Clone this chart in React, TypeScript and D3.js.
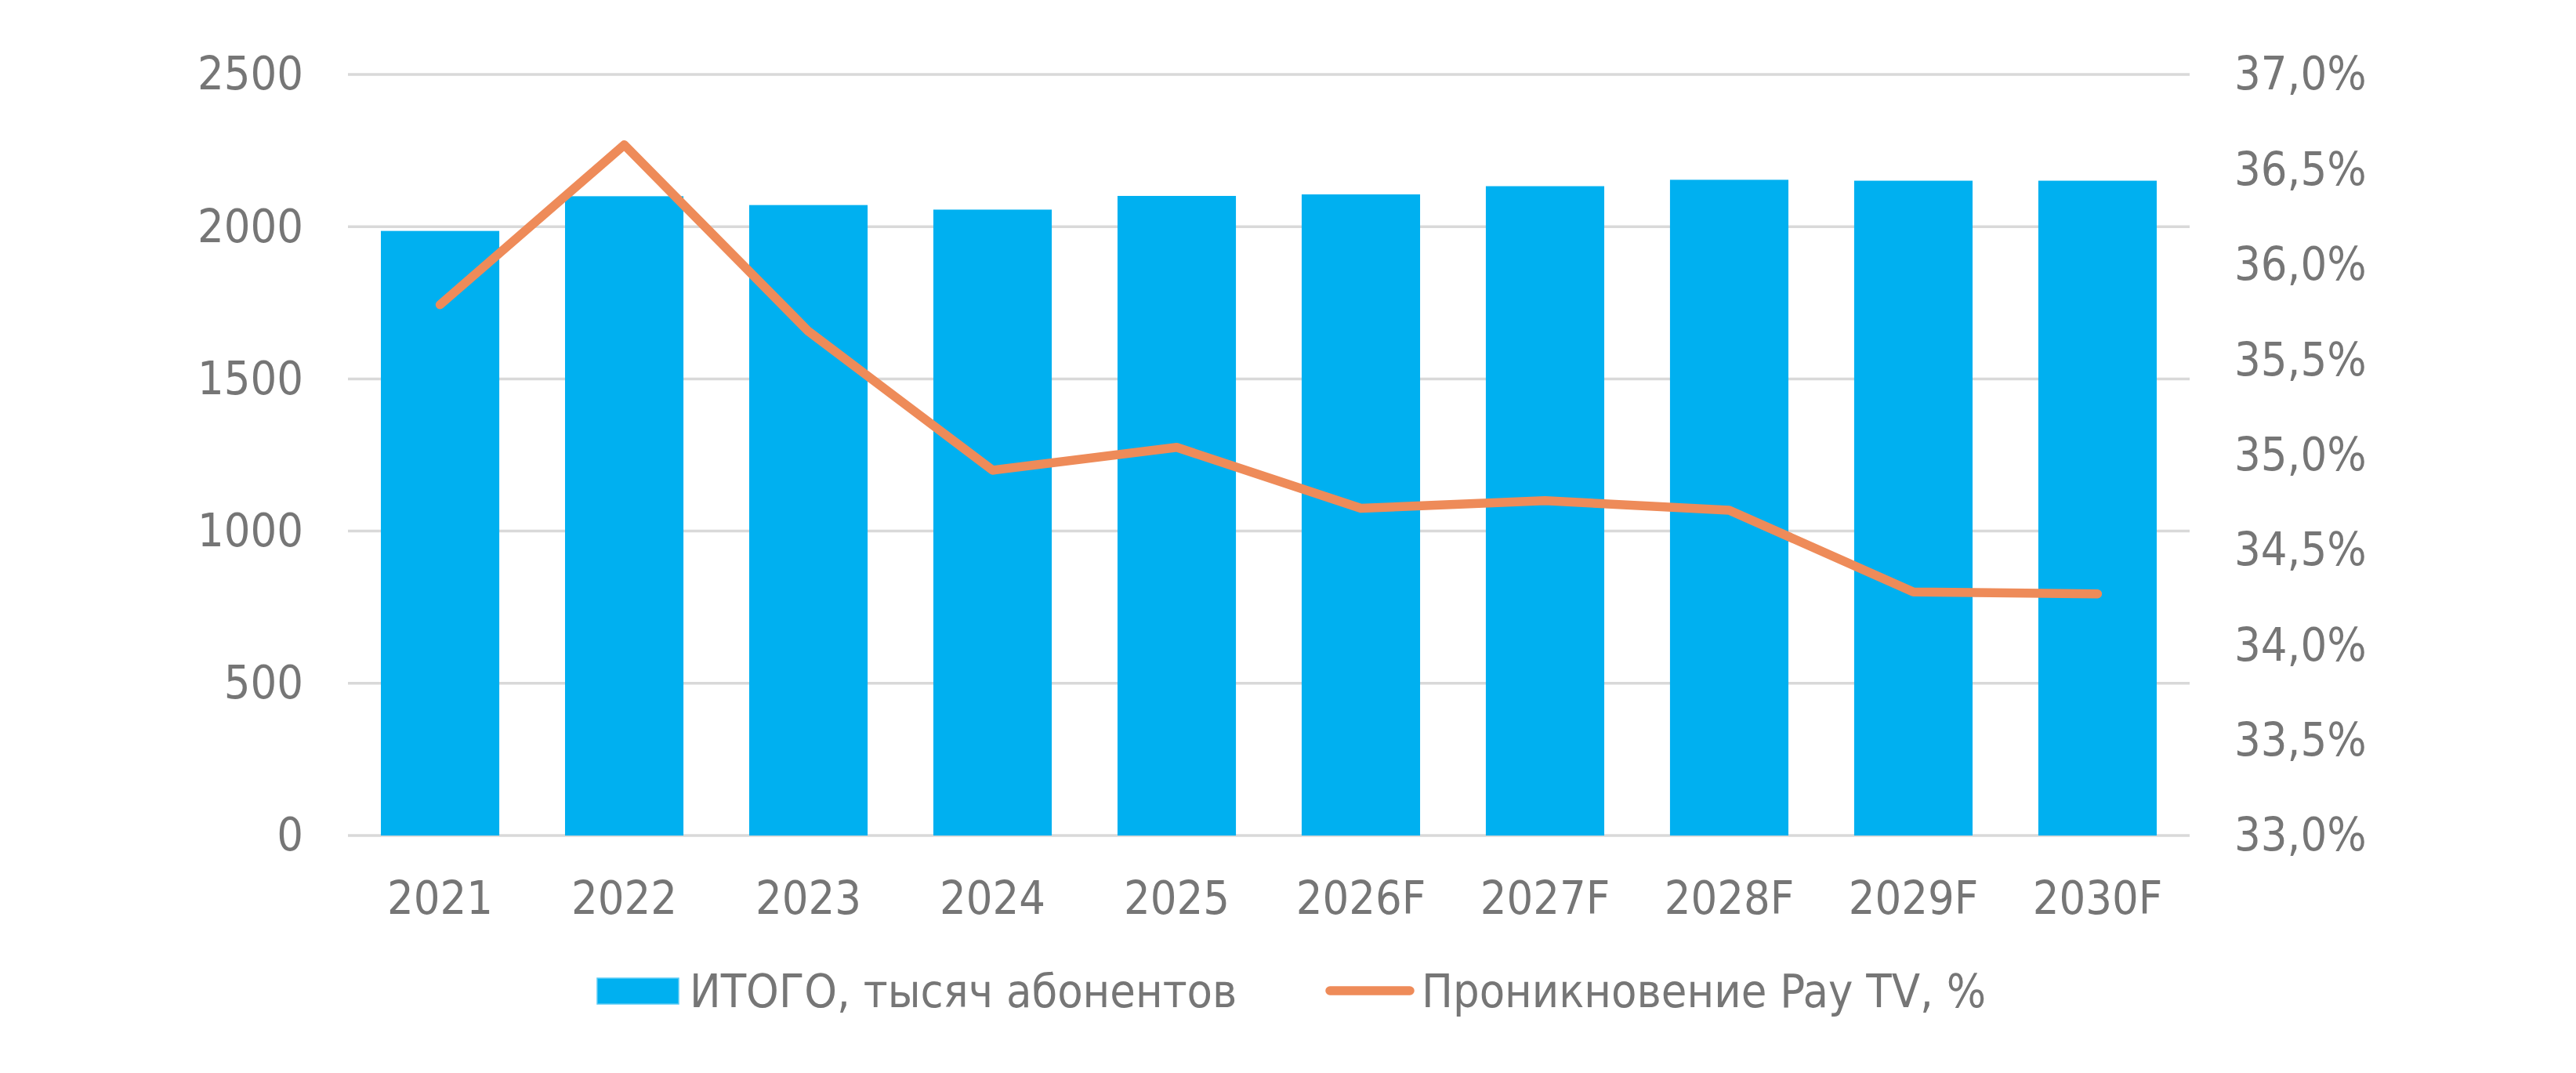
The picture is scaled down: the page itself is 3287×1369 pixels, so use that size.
import { useEffect, useRef } from "react";
import * as d3 from "d3";

const years = [ "2021", "2022", "2023", "2024", "2025", "2026F", "2027F", "2028F", "2029F", "2030F" ];
const subscribers = [ 1986, 2100, 2071, 2056, 2101, 2106, 2133, 2154, 2151, 2151 ];
const penetration = [ 35.79, 36.63, 35.65, 34.92, 35.04, 34.72, 34.76, 34.71, 34.28, 34.27 ];
const leftTicks = [ 0, 500, 1000, 1500, 2000, 2500 ];
const rightTicks = [ 33, 33.5, 34, 34.5, 35, 35.5, 36, 36.5, 37 ];
const barLabel = "ИТОГО, тысяч абонентов";
const lineLabel = "Проникновение Pay TV, %";

const W = 3287;
const H = 1369;
const FONT = "'DejaVu Sans Condensed', 'DejaVu Sans', sans-serif";
const FS = 59;
const TEXT = "#767676";
const GRID = "#D9D9D9";
const BAR = "#00B0F0";
const LINE = "#EE8B59";

export default function App ()
{
    const svgRef = useRef<SVGSVGElement>( null );

    useEffect( () =>
    {
        document.body.style.margin = "0";
        if ( !svgRef.current ) return;
        const svg = d3.select( svgRef.current );
        svg.selectAll( "*" ).remove();

        const m = { top: 95, right: W - 2794, bottom: H - 1066, left: 444 };
        const w = W - m.left - m.right;
        const h = H - m.top - m.bottom;
        const g = svg.append( "g" ).attr( "transform", `translate(${ m.left },${ m.top })` );

        const x = d3.scaleBand().domain( years ).range( [ 0, w ] ).paddingInner( 0.357 ).paddingOuter( 0.1787 );
        const yL = d3.scaleLinear().domain( [ 0, 2500 ] ).range( [ h, 0 ] );
        const yR = d3.scaleLinear().domain( [ 33, 37 ] ).range( [ h, 0 ] );
        const fmtR = ( v: number ) => d3.format( ".1f" )( v ).replace( ".", "," ) + "%";

        // Grid
        g.append( "g" ).selectAll( "line" ).data( leftTicks ).join( "line" )
            .attr( "x1", 0 ).attr( "x2", w ).attr( "y1", ( d ) => yL( d ) ).attr( "y2", ( d ) => yL( d ) )
            .attr( "stroke", GRID ).attr( "stroke-width", 3.5 );

        // Bars
        g.append( "g" ).selectAll( "rect" ).data( subscribers ).join( "rect" )
            .attr( "x", ( _, i ) => x( years[ i ] )! ).attr( "width", x.bandwidth() )
            .attr( "y", ( d ) => yL( d ) ).attr( "height", ( d ) => h - yL( d ) )
            .attr( "fill", BAR );

        // Line
        const lineGen = d3.line<number>()
            .x( ( _, i ) => x( years[ i ] )! + x.bandwidth() / 2 )
            .y( ( d ) => yR( d ) );
        g.append( "path" ).datum( penetration ).attr( "d", lineGen )
            .attr( "fill", "none" ).attr( "stroke", LINE ).attr( "stroke-width", 11.5 )
            .attr( "stroke-linejoin", "round" ).attr( "stroke-linecap", "round" );

        // Axes
        const styleText = ( sel: any ) => sel.selectAll( "text" )
            .attr( "fill", TEXT ).style( "font-size", `${ FS }px` ).style( "font-family", FONT );

        g.append( "g" )
            .call( d3.axisLeft( yL ).tickValues( leftTicks ).tickSize( 0 ).tickPadding( 57 ).tickFormat( d3.format( "d" ) ) )
            .call( ( a ) => a.select( ".domain" ).remove() )
            .call( styleText );

        g.append( "g" ).attr( "transform", `translate(${ w },0)` )
            .call( d3.axisRight( yR ).tickValues( rightTicks ).tickSize( 0 ).tickPadding( 57 ).tickFormat( ( d ) => fmtR( d as number ) ) )
            .call( ( a ) => a.select( ".domain" ).remove() )
            .call( styleText );

        g.append( "g" ).attr( "transform", `translate(0,${ h })` )
            .call( d3.axisBottom( x ).tickSize( 0 ).tickPadding( 58 ) )
            .call( ( a ) => a.select( ".domain" ).remove() )
            .call( styleText );

        // Legend
        const legend = svg.append( "g" );
        legend.append( "rect" ).attr( "x", 762 ).attr( "y", 1248 ).attr( "width", 104 ).attr( "height", 33 )
            .attr( "fill", BAR ).attr( "stroke", "#5CCBF5" ).attr( "stroke-width", 1.5 );
        legend.append( "text" ).attr( "x", 880 ).attr( "y", 1285 )
            .attr( "fill", TEXT ).style( "font-size", `${ FS }px` ).style( "font-family", FONT ).text( barLabel );
        legend.append( "line" ).attr( "x1", 1697 ).attr( "x2", 1799 ).attr( "y1", 1264 ).attr( "y2", 1264 )
            .attr( "stroke", LINE ).attr( "stroke-width", 11.5 ).attr( "stroke-linecap", "round" );
        legend.append( "text" ).attr( "x", 1814 ).attr( "y", 1285 )
            .attr( "fill", TEXT ).style( "font-size", `${ FS }px` ).style( "font-family", FONT ).text( lineLabel );
    }, [] );

    return (
        <svg ref={ svgRef } width={ W } height={ H } style={ { display: "block", background: "#fff" } } />
    );
}
